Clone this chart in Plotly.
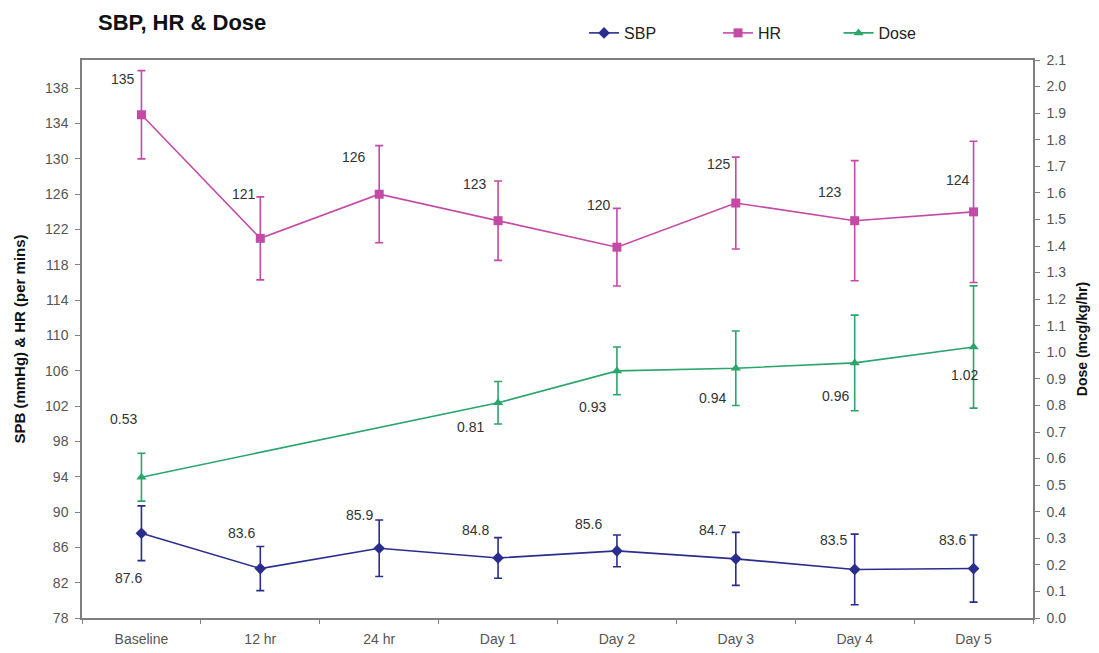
import plotly.graph_objects as go

categories = ["Baseline", "12 hr", "24 hr", "Day 1", "Day 2", "Day 3", "Day 4", "Day 5"]
sbp = [87.6, 83.6, 85.9, 84.8, 85.6, 84.7, 83.5, 83.6]
sbp_err = [3.1, 2.5, 3.2, 2.3, 1.8, 3.0, 4.0, 3.8]
hr = [135, 121, 126, 123, 120, 125, 123, 124]
hr_err = [5.0, 4.7, 5.5, 4.5, 4.4, 5.2, 6.8, 8.0]
dose_categories = ["Baseline", "Day 1", "Day 2", "Day 3", "Day 4", "Day 5"]
dose = [0.53, 0.81, 0.93, 0.94, 0.96, 1.02]
dose_err = [0.09, 0.08, 0.09, 0.14, 0.18, 0.23]

left_ticks = list(range(78, 142, 4))
right_ticks = [round(i * 0.1, 1) for i in range(0, 22)]

# label offsets in pixels (dx, dy down)
sbp_off = [(-13, 45), (-19, -36), (-20, -33), (-23, -28), (-28, -27), (-23, -29), (-21, -29), (-21, -29)]
hr_off = [(-18, -36), (-16, -44), (-25, -37), (-23, -37), (-18, -42), (-17, -39), (-25, -29), (-16, -32)]
dose_off = [(-18, -58), (-28, 24), (-24, 36), (-23, 30), (-19, 33), (-9, 28)]

C_SBP = "#2b2d8e"
C_HR = "#c54aa6"
C_DOSE = "#2ba56c"
FONT = "Liberation Sans, Arial, sans-serif"

fig = go.Figure()
fig.add_trace(go.Scatter(
    x=categories, y=sbp, name="SBP", mode="lines+markers", showlegend=True,
    line=dict(color=C_SBP, width=1.6),
    marker=dict(symbol="diamond", size=9, color=C_SBP),
    error_y=dict(type="data", array=sbp_err, color=C_SBP, thickness=1.6, width=4),
    legend="legend",
))
fig.add_trace(go.Scatter(
    x=categories, y=hr, name="HR", mode="lines+markers", showlegend=True,
    line=dict(color=C_HR, width=1.6),
    marker=dict(symbol="square", size=9, color=C_HR),
    error_y=dict(type="data", array=hr_err, color=C_HR, thickness=1.6, width=4),
    legend="legend2",
))
fig.add_trace(go.Scatter(
    x=dose_categories, y=dose, name="Dose", mode="lines+markers", yaxis="y2", showlegend=True,
    line=dict(color=C_DOSE, width=1.6),
    marker=dict(symbol="triangle-up", size=9, color=C_DOSE),
    error_y=dict(type="data", array=dose_err, color=C_DOSE, thickness=1.6, width=4),
    legend="legend3",
))

label_font = dict(size=14, color="#333333", family=FONT)
annotations = []
for c, v, (dx, dy) in zip(categories, sbp, sbp_off):
    annotations.append(dict(x=c, y=v, xref="x", yref="y", text=f"{v:g}", showarrow=False,
                            xshift=dx, yshift=-dy, font=label_font))
for c, v, (dx, dy) in zip(categories, hr, hr_off):
    annotations.append(dict(x=c, y=v, xref="x", yref="y", text=f"{v:g}", showarrow=False,
                            xshift=dx, yshift=-dy, font=label_font))
for c, v, (dx, dy) in zip(dose_categories, dose, dose_off):
    annotations.append(dict(x=c, y=v, xref="x", yref="y2", text=f"{v:.2f}", showarrow=False,
                            xshift=dx, yshift=-dy, font=label_font))

axis_line = "#7f7f7f"
tick_font = dict(size=14, color="#555555", family=FONT)
legend_common = dict(orientation="h", yanchor="middle", y=1.0484, xanchor="left",
                     font=dict(size=16, color="#222222", family=FONT), bgcolor="rgba(0,0,0,0)")

# the page body has an 8px margin, so the figure is drawn 8px in from the top-left
fig.update_layout(
    width=1091, height=645,
    margin=dict(l=74, r=66, t=52, b=35, autoexpand=False),
    paper_bgcolor="white", plot_bgcolor="white",
    font=dict(family=FONT, size=14, color="#333333"),
    title=dict(text="<b>SBP, HR & Dose</b>", x=90 / 1091, xanchor="left", y=1 - 14 / 645, yanchor="middle",
               font=dict(size=22, color="#111111", family=FONT)),
    legend=dict(x=0.5279, **legend_common),
    legend2=dict(x=0.6688, **legend_common),
    legend3=dict(x=0.7955, **legend_common),
    xaxis=dict(categoryorder="array", categoryarray=categories, range=[-0.5, 7.5],
               showline=True, linecolor=axis_line, linewidth=1.5, mirror=True,
               ticks="outside", tickson="boundaries", ticklen=4, tickcolor=axis_line,
               ticklabelstandoff=7,
               showgrid=False, zeroline=False, tickfont=tick_font),
    yaxis=dict(range=[78, 141.2], tickvals=left_ticks, showline=True, linecolor=axis_line, linewidth=1.5,
               ticks="outside", ticklen=5, tickcolor=axis_line, showgrid=False, zeroline=False,
               ticklabelstandoff=4, tickfont=tick_font,
               title=dict(text="<b>SPB (mmHg) & HR (per mins)</b>", font=dict(size=15, color="#111111"), standoff=16)),
    yaxis2=dict(range=[0, 2.1], tickvals=right_ticks, tickformat=".1f", overlaying="y", side="right",
                showline=True, linecolor=axis_line, linewidth=1.5,
                ticks="outside", ticklen=5, tickcolor=axis_line, showgrid=False, zeroline=False,
                ticklabelstandoff=4, tickfont=tick_font,
                title=dict(text="<b>Dose (mcg/kg/hr)</b>", font=dict(size=14, color="#111111"), standoff=12)),
    annotations=annotations,
)

fig.write_html("out.html")
